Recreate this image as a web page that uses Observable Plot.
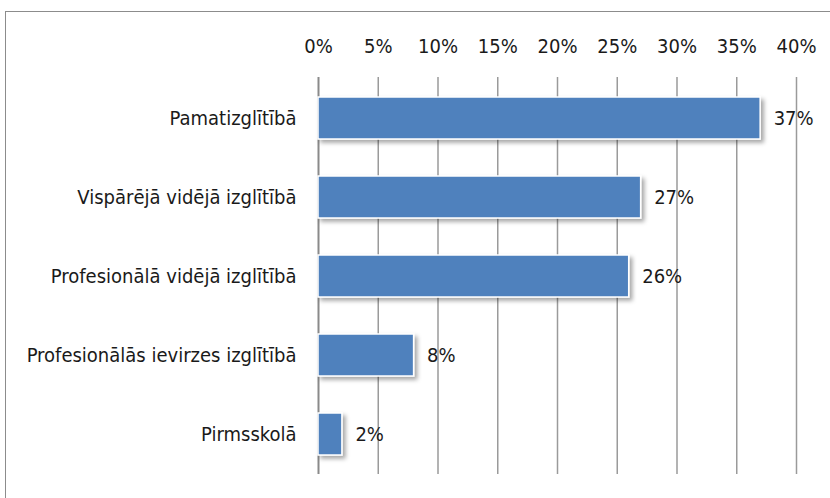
<!DOCTYPE html>
<html>
<head>
<meta charset="utf-8">
<script src="https://cdn.jsdelivr.net/npm/d3@7"></script>
<script src="https://cdn.jsdelivr.net/npm/@observablehq/plot@0.6"></script>
<style>
  html, body { margin: 0; padding: 0; background: #fff; }
  #wrap { position: relative; width: 830px; height: 498px; overflow: hidden; }
  #frame { position: absolute; left: 5px; top: 11px; width: 840px; height: 500px;
           border-left: 1.5px solid #8c8c8c; border-top: 1.5px solid #8c8c8c; pointer-events: none; }
  #chart { position: absolute; left: 0; top: 0; }
  #chart svg text { font-family: 'Liberation Sans Narrow', 'DejaVu Sans Condensed', sans-serif; }
</style>
</head>
<body>
<div id="wrap"><div id="chart"></div><div id="frame"></div></div>
<script>
const categories = ["Pamatizglītībā", "Vispārējā vidējā izglītībā", "Profesionālā vidējā izglītībā", "Profesionālās ievirzes izglītībā", "Pirmsskolā"];
const values = [0.37, 0.27, 0.26, 0.08, 0.02];
const valueLabels = ["37%", "27%", "26%", "8%", "2%"];
const xTicks = [0, 0.05, 0.10, 0.15, 0.20, 0.25, 0.30, 0.35, 0.40];

const data = categories.map((c, i) => ({category: c, value: values[i], label: valueLabels[i]}));
const font = "'Liberation Sans Narrow', 'DejaVu Sans Condensed', sans-serif";

const chart = Plot.plot({
  width: 830,
  height: 498,
  marginLeft: 318,
  marginRight: 34,
  marginTop: 77,
  marginBottom: 24,
  style: {fontFamily: font, fontSize: "20px", color: "#1a1a1a", background: "transparent"},
  x: {domain: [0, 0.40], ticks: xTicks, tickFormat: d => Math.round(d * 100) + "%"},
  y: {domain: categories, paddingInner: 0.47, paddingOuter: 0.235},
  marks: [
    Plot.ruleX(xTicks.slice(1), {stroke: "#9a9a9a", strokeWidth: 1.5, strokeOpacity: 1}),
    Plot.ruleX([0], {stroke: "#8a8a8a", strokeWidth: 2}),
    Plot.barX(data, {y: "category", x: "value", fill: "#4F81BD", stroke: "#ffffff", strokeWidth: 1.5}),
    Plot.text(data, {y: "category", x: "value", text: "label", dx: 13, textAnchor: "start", fontSize: 20, fill: "#1a1a1a"}),
    Plot.axisX({anchor: "top", ticks: xTicks, tickSize: 0, tickPadding: 25, fontSize: 20, label: null,
                tickFormat: d => Math.round(d * 100) + "%"}),
    Plot.axisY({tickSize: 0, tickPadding: 22, fontSize: 20, label: null})
  ]
});

// drop shadow for bars
const ns = "http://www.w3.org/2000/svg";
const defs = document.createElementNS(ns, "defs");
defs.innerHTML = '<filter id="barShadow" x="-10%" y="-20%" width="130%" height="160%"><feDropShadow dx="3" dy="3" stdDeviation="2" flood-color="#000" flood-opacity="0.35"/></filter>';
chart.insertBefore(defs, chart.firstChild);
chart.querySelectorAll('g[aria-label="bar"]').forEach(g => g.setAttribute("filter", "url(#barShadow)"));

document.getElementById("chart").appendChild(chart);
</script>
</body>
</html>
